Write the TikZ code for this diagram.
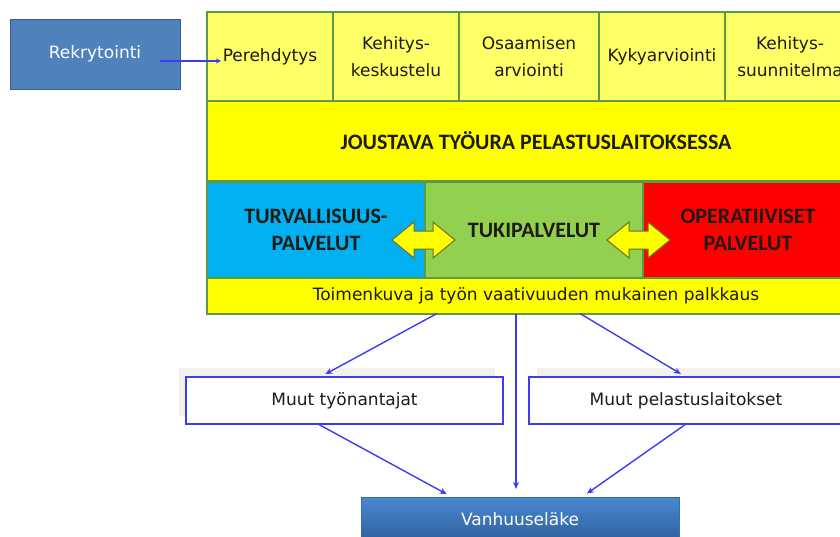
\documentclass[tikz,border=0pt]{standalone}
\usepackage{fontspec}
\setmainfont{DejaVu Sans}
\newfontfamily\calfont{Carlito}
\usetikzlibrary{arrows.meta}
\definecolor{cellyel}{HTML}{FFFF66}
\definecolor{bandyel}{HTML}{FFFF00}
\definecolor{frame}{HTML}{5B9B48}
\definecolor{cblue}{HTML}{00B0F0}
\definecolor{cgreen}{HTML}{92D050}
\definecolor{cred}{HTML}{FF0000}
\definecolor{boxblue}{HTML}{4F81BD}
\definecolor{boxbluedark}{HTML}{385D8A}
\definecolor{lineblue}{HTML}{3C3CF5}
\definecolor{txt}{HTML}{1E1A14}
\definecolor{arrowedge}{HTML}{6E6E1E}
\definecolor{shadowgray}{HTML}{F2F1EC}
\definecolor{vtop}{HTML}{4A89D0}
\definecolor{vbot}{HTML}{2E609E}
\definecolor{vedge}{HTML}{3A6DB0}
\begin{document}
\begin{tikzpicture}[x=1pt,y=-1pt,
  every node/.style={inner sep=0pt, outer sep=0pt},
  reg/.style={font=\fontsize{17}{27}\selectfont, text=txt, align=center},
  cell/.style={reg, draw=frame, line width=1.2pt, fill=cellyel, minimum height=89pt},
  boldtxt/.style={font=\calfont\bfseries\fontsize{22}{27}\selectfont, text=txt, align=center},
  band/.style={draw=frame, line width=1.2pt, minimum width=658pt, fill=bandyel},
  svc/.style={boldtxt, draw=frame, line width=1.2pt, minimum height=96pt},
  bluebox/.style={reg, text=white, fill=boxblue, draw=boxbluedark, line width=1pt},
  outbox/.style={reg, fill=white, draw=lineblue, line width=1.5pt, minimum height=47pt},
  conn/.style={draw=lineblue, line width=1.4pt, -{Stealth[length=7pt,width=6pt]}},
  dbl/.pic={\draw[fill=bandyel, draw=arrowedge, line width=1pt, line join=miter]
     (-31.5,0) -- (-9.5,-18) -- (-9.5,-9) -- (9.5,-9) -- (9.5,-18) -- (31.5,0)
     -- (9.5,18) -- (9.5,9) -- (-9.5,9) -- (-9.5,18) -- cycle;}
]
\useasboundingbox (0,0) rectangle (840,536);

% recruitment
\node[bluebox, minimum width=170pt, minimum height=70pt] (rek) at (95,54) {Rekrytointi};

% top row
\node[cell, minimum width=126pt] (c1) at (270,56.5) {Perehdytys};
\node[cell, minimum width=126pt] (c2) at (396,56.5) {Kehitys-\\keskustelu};
\node[cell, minimum width=140pt] (c3) at (529,56.5) {Osaamisen\\arviointi};
\node[cell, minimum width=126pt] (c4) at (662,56.5) {Kykyarviointi};
\node[cell, minimum width=130pt] (c5) at (790,56.5) {Kehitys-\\suunnitelma};

% band
\node[band, boldtxt, minimum height=80pt] (jt) at (536,141) {JOUSTAVA TYÖURA PELASTUSLAITOKSESSA};

% services
\node[svc, fill=cblue, minimum width=218pt] (tv) at (316,230) {TURVALLISUUS-\\PALVELUT};
\node[svc, fill=cgreen, minimum width=218pt] (tk) at (534,230) {TUKIPALVELUT};
\node[svc, fill=cred, minimum width=210pt] (op) at (748,230) {OPERATIIVISET\\PALVELUT};

% salary band
\node[band, reg, minimum height=35pt] (pal) at (536,296) {Toimenkuva ja työn vaativuuden mukainen palkkaus};

% outer frame
\draw[frame, line width=2pt] (c1.north west) rectangle (pal.south east);

% double arrows
\path (tv.east) ++(-1.5,10) pic{dbl};
\path (tk.east) ++(-4.5,10) pic{dbl};

% lower boxes
\fill[shadowgray] (179,368) rectangle (495,416);
\fill[shadowgray] (537,368) rectangle (845,416);
\node[outbox, minimum width=317pt] (mt) at (344.5,400.5) {Muut työnantajat};
\node[outbox, minimum width=314pt] (mp) at (686,400.5) {Muut pelastuslaitokset};
\node[reg, text=white, minimum width=318pt, minimum height=44pt, top color=vtop, bottom color=vbot, draw=vedge, line width=1pt] (va) at (520,519) {Vanhuuseläke};

% connectors
\coordinate (pin) at ([xshift=14pt,yshift=-4.5pt]c1.west);
\draw[draw=lineblue, line width=1.4pt, -{Stealth[length=5pt,width=5pt]}] ([xshift=-20pt,yshift=-7pt]rek.east) -- (pin);
\draw[conn, shorten >=6pt] ([xshift=-99pt]pal.south) -- ([xshift=-24.5pt]mt.north);
\draw[conn, shorten >=8pt] ([xshift=-20pt]pal.south) -- ([xshift=-4pt]va.north);
\draw[conn, shorten >=6pt] ([xshift=44pt]pal.south) -- (mp.north);
\draw[conn, shorten >=6pt] ([xshift=-26.5pt]mt.south) -- ([xshift=-68pt]va.north);
\draw[conn, shorten >=6pt] (mp.south) -- ([xshift=62pt]va.north);
\end{tikzpicture}
\end{document}
